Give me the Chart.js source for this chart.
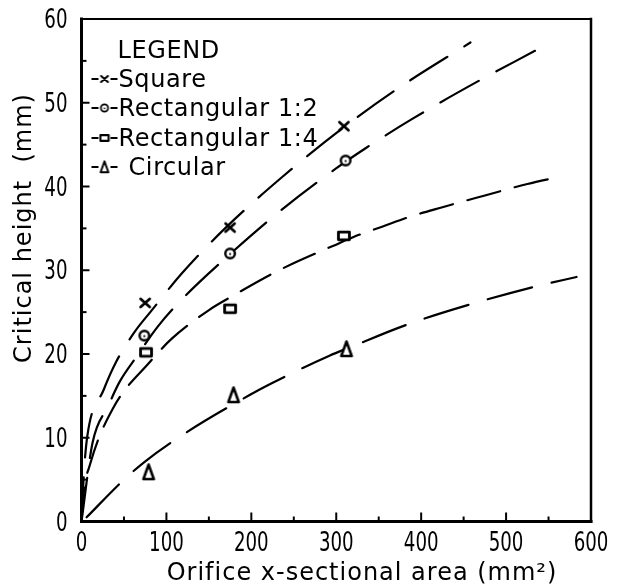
<!DOCTYPE html>
<html>
<head>
<meta charset="utf-8">
<script src="https://cdn.jsdelivr.net/npm/chart.js@4.4.1/dist/chart.umd.min.js"></script>
<style>
  html, body { margin: 0; padding: 0; background: #fff; }
  canvas { display: block; }
</style>
</head>
<body>
<canvas id="chart" width="626" height="588"></canvas>
<script>
// Measured critical heights (mm) against orifice cross-sectional area (mm²)
const squareArea   = [75, 175, 309];
const squareHeight = [26.1, 35.1, 47.2];
const rect12Area   = [74, 175, 311];
const rect12Height = [22.2, 32.0, 43.1];
const rect14Area   = [76, 175, 309];
const rect14Height = [20.2, 25.4, 34.1];
const circArea     = [79, 179, 312];
const circHeight   = [5.9, 15.1, 20.6];

// Fitted trend curves, drawn dashed
const squareFitArea   = [0, 3, 7, 26, 41, 63, 81, 118, 169, 236, 308, 374, 458];
const squareFitHeight = [0, 6, 10.3, 15.7, 19.1, 22.7, 25.0, 29.6, 35.0, 41.1, 47.0, 51.8, 57.2];
const rect12FitArea   = [0, 13, 31.5, 45, 65, 90, 118, 168, 233, 299, 335, 390, 464, 534];
const rect12FitHeight = [0, 9.4, 13.8, 16.7, 19.7, 23.3, 26.5, 31.3, 37.0, 42.1, 44.6, 48.1, 52.4, 56.2];
const rect14FitArea   = [0, 2, 10, 37, 81, 106, 151, 174, 223, 249, 296, 321, 354, 387, 424, 474, 525, 565];
const rect14FitHeight = [0, 3, 6.8, 13.5, 19.1, 21.8, 25.3, 26.7, 29.5, 30.8, 32.9, 34.0, 35.2, 36.4, 37.5, 38.9, 40.3, 41.2];
const circFitArea     = [6, 48, 74, 123, 198, 224, 292, 319, 370, 400, 467, 536, 583];
const circFitHeight   = [0.5, 4.8, 7.1, 10.6, 15.1, 16.5, 19.8, 20.9, 23.0, 24.1, 26.2, 28.1, 29.2];

// Axis ticks and text
const xTickValues = [0, 100, 200, 300, 400, 500, 600];
const yTickValues = [0, 10, 20, 30, 40, 50, 60];
const xTitle = 'Orifice x-sectional area (mm²)';
const yTitle = 'Critical height  (mm)';
const legendTitle = 'LEGEND';
const seriesNames = ['Square', 'Rectangular 1:2', 'Rectangular 1:4', 'Circular'];

const INK = '#000';
const TEXT_FONT = '"DejaVu Sans", sans-serif';

function pairs(xs, ys) { return xs.map((x, i) => ({ x: x, y: ys[i] })); }

// Hand-drawn style marker glyphs rendered to small canvases
function marker(kind, s) {
  const c = document.createElement('canvas');
  const w = Math.ceil(16 * s), h = Math.ceil(18 * s);
  c.width = w; c.height = h;
  const g = c.getContext('2d');
  g.translate(w / 2, h / 2);
  g.strokeStyle = INK; g.fillStyle = '#fff';
  g.lineJoin = 'round'; g.lineCap = 'round';
  if (kind === 'cross') {
    g.lineWidth = 2.8 * s;
    g.beginPath();
    g.moveTo(-4.5 * s, -4 * s); g.lineTo(4.5 * s, 4 * s);
    g.moveTo(4.5 * s, -4 * s); g.lineTo(-4.5 * s, 4 * s);
    g.stroke();
  } else if (kind === 'circle') {
    g.lineWidth = 2.4 * s;
    g.beginPath(); g.arc(0, 0, 4.8 * s, 0, Math.PI * 2); g.fill(); g.stroke();
    g.fillStyle = INK;
    g.beginPath(); g.arc(0, 0.5 * s, 1.1 * s, 0, Math.PI * 2); g.fill();
  } else if (kind === 'rect') {
    g.lineWidth = 2.8 * s;
    g.beginPath(); g.rect(-5.5 * s, -3.8 * s, 11 * s, 7.6 * s); g.fill(); g.stroke();
  } else if (kind === 'triangle') {
    g.lineWidth = 2.6 * s;
    g.beginPath();
    g.moveTo(0, -7.5 * s); g.lineTo(5.2 * s, 7 * s); g.lineTo(-5.2 * s, 7 * s); g.closePath();
    g.fill(); g.stroke();
  }
  return c;
}

const kinds = ['cross', 'circle', 'rect', 'triangle'];
const plotMarkers = kinds.map(k => marker(k, 1));
const keyMarkers = kinds.map(k => marker(k, 0.75));

const pointSets = [
  pairs(squareArea, squareHeight),
  pairs(rect12Area, rect12Height),
  pairs(rect14Area, rect14Height),
  pairs(circArea, circHeight)
];
const fitSets = [
  pairs(squareFitArea, squareFitHeight),
  pairs(rect12FitArea, rect12FitHeight),
  pairs(rect14FitArea, rect14FitHeight),
  pairs(circFitArea, circFitHeight)
];
const dashes = [[44, 20], [44, 20], [34, 15], [46, 20]];

const datasets = [];
fitSets.forEach((d, i) => {
  datasets.push({
    label: seriesNames[i] + ' fit',
    data: d,
    showLine: true,
    borderColor: INK,
    borderWidth: 2.2,
    borderDash: dashes[i],
    borderCapStyle: 'round',
    cubicInterpolationMode: 'monotone',
    pointRadius: 0,
    fill: false,
    order: 2
  });
});
pointSets.forEach((d, i) => {
  datasets.push({
    label: seriesNames[i],
    data: d,
    showLine: false,
    pointStyle: plotMarkers[i],
    pointRadius: 6,
    order: 1
  });
});

// Narrow, tall numerals for the tick labels
function narrowText(ctx, text, x, y, align) {
  const k = 0.7;
  ctx.save();
  ctx.translate(x, y);
  ctx.scale(k, 1);
  ctx.textAlign = align;
  ctx.fillText(text, 0, 0);
  ctx.restore();
}

// Frame, inward tick marks, tick labels, axis titles and the in-plot key
const decorations = {
  id: 'decorations',
  afterDraw(chart) {
    const { ctx, chartArea: a, scales: { x, y } } = chart;
    ctx.save();
    ctx.strokeStyle = INK;
    ctx.fillStyle = INK;
    ctx.lineCap = 'square';

    // frame
    ctx.lineWidth = 2; ctx.beginPath(); ctx.moveTo(a.left, a.top); ctx.lineTo(a.right, a.top); ctx.stroke();
    ctx.lineWidth = 2.5; ctx.beginPath(); ctx.moveTo(a.right, a.top); ctx.lineTo(a.right, a.bottom); ctx.stroke();
    ctx.lineWidth = 3; ctx.beginPath(); ctx.moveTo(a.left, a.top); ctx.lineTo(a.left, a.bottom); ctx.lineTo(a.right, a.bottom); ctx.stroke();

    // inward ticks: majors at labelled values, minors halfway between
    ctx.lineWidth = 2; ctx.lineCap = 'butt';
    for (let i = 0; i < xTickValues.length; i++) {
      const px = x.getPixelForValue(xTickValues[i]);
      ctx.beginPath(); ctx.moveTo(px, a.bottom); ctx.lineTo(px, a.bottom - 9); ctx.stroke();
      if (i < xTickValues.length - 1) {
        const mx = x.getPixelForValue((xTickValues[i] + xTickValues[i + 1]) / 2);
        ctx.beginPath(); ctx.moveTo(mx, a.bottom); ctx.lineTo(mx, a.bottom - 5); ctx.stroke();
      }
    }
    for (let i = 0; i < yTickValues.length; i++) {
      const py = y.getPixelForValue(yTickValues[i]);
      ctx.beginPath(); ctx.moveTo(a.left, py); ctx.lineTo(a.left + 8, py); ctx.stroke();
      if (i < yTickValues.length - 1) {
        const my = y.getPixelForValue((yTickValues[i] + yTickValues[i + 1]) / 2);
        ctx.beginPath(); ctx.moveTo(a.left, my); ctx.lineTo(a.left + 5, my); ctx.stroke();
      }
    }

    // tick labels
    ctx.font = '26px ' + TEXT_FONT;
    ctx.textBaseline = 'alphabetic';
    xTickValues.forEach(v => narrowText(ctx, String(v), x.getPixelForValue(v), a.bottom + 29, 'center'));
    yTickValues.forEach(v => narrowText(ctx, String(v), a.left - 14, y.getPixelForValue(v) + 9, 'right'));

    // axis titles
    ctx.font = '24px ' + TEXT_FONT;
    ctx.letterSpacing = '1px';
    ctx.textAlign = 'center';
    ctx.fillText(xTitle, 362, 580);
    ctx.save();
    ctx.translate(31, 228);
    ctx.rotate(-Math.PI / 2);
    ctx.fillText(yTitle, 0, 0);
    ctx.restore();

    // key
    ctx.textAlign = 'left';
    ctx.letterSpacing = '0.6px';
    ctx.font = '24px ' + TEXT_FONT;
    ctx.fillText(legendTitle, a.left + 36, 58);
    const rows = [87, 116, 146, 175];
    ctx.lineWidth = 2;
    rows.forEach((base, i) => {
      const cy = base - 8;
      const cx = a.left + 23;
      ctx.beginPath();
      ctx.moveTo(cx - 13, cy); ctx.lineTo(cx - 6, cy);
      ctx.moveTo(cx + 6, cy); ctx.lineTo(cx + 13, cy);
      ctx.stroke();
      const m = keyMarkers[i];
      ctx.drawImage(m, cx - m.width / 2, cy - m.height / 2);
      ctx.fillText(seriesNames[i], cx + (i === 3 ? 24 : 14), base);
    });
    ctx.restore();
  }
};

new Chart(document.getElementById('chart'), {
  type: 'scatter',
  data: { datasets: datasets },
  plugins: [decorations],
  options: {
    responsive: false,
    animation: false,
    devicePixelRatio: 1,
    layout: { padding: { left: 0, right: 35, top: 19, bottom: 0 } },
    plugins: { legend: { display: false }, tooltip: { enabled: false } },
    scales: {
      x: {
        type: 'linear', min: 0, max: 600,
        grid: { display: false, drawTicks: false },
        border: { display: false },
        afterBuildTicks: s => { s.ticks = xTickValues.map(v => ({ value: v })); },
        afterFit: s => { s.height = 66.5; },
        ticks: { display: false }
      },
      y: {
        type: 'linear', min: 0, max: 60,
        grid: { display: false, drawTicks: false },
        border: { display: false },
        afterBuildTicks: s => { s.ticks = yTickValues.map(v => ({ value: v })); },
        afterFit: s => { s.width = 81.5; },
        ticks: { display: false }
      }
    }
  }
});
</script>
</body>
</html>
